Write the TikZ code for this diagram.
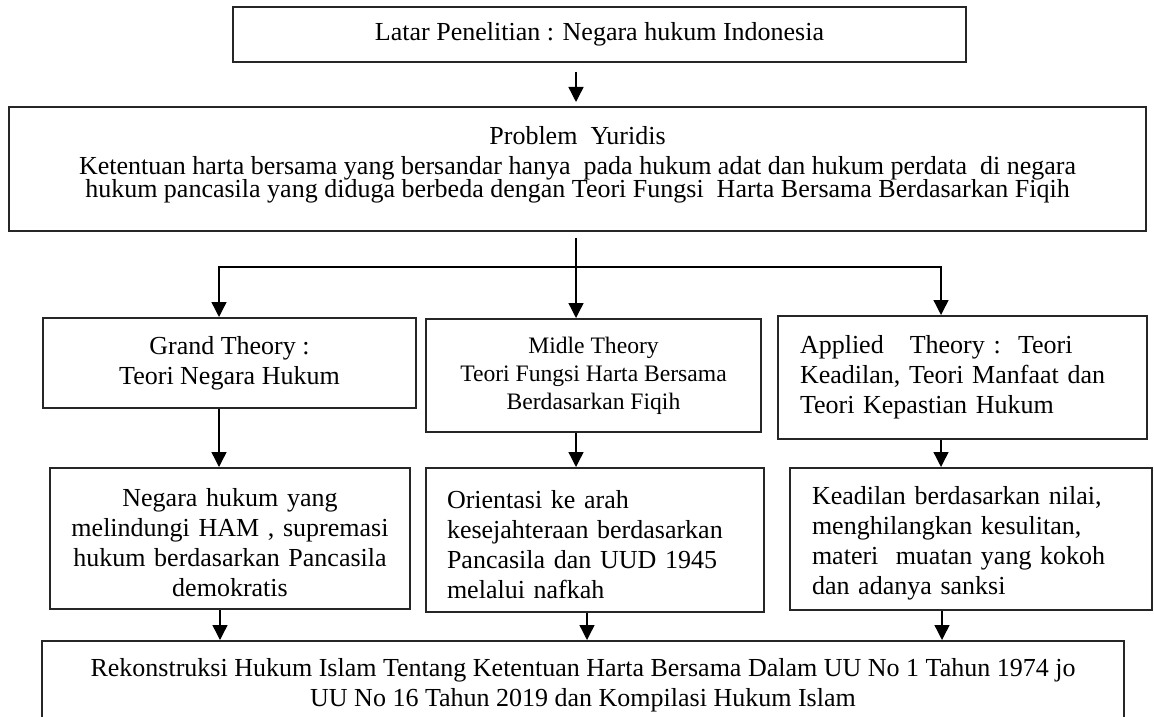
\documentclass[tikz,border=0pt]{standalone}
\usepackage{fontspec}
\setmainfont{Liberation Serif}
\usetikzlibrary{arrows.meta}
\newcommand\tightskiplines{\lineskiplimit=-100pt\relax\lineskip=0pt\relax}
\newcommand\topstrut{\rule{0pt}{13.5pt}}
\begin{document}
\begin{tikzpicture}[x=0.5pt,y=-0.5pt,
  box/.style={draw=black!85, line width=1pt, rectangle, inner sep=0pt,
    font=\fontsize{13}{15}\selectfont},
  con/.style={line width=0.7pt, draw=black},
  arr/.style={con, -{Triangle[width=7.5pt,length=7.5pt]}},
]
\useasboundingbox (0,0) rectangle (1154,716);
\clip (0,0) rectangle (1154,716);

% boxes
\node[box, minimum width=366.5pt, minimum height=27.5pt] (top) at (599.5,34.5)
  {Latar Penelitian : Negara hukum Indonesia};

\node[box, minimum width=568.5pt, minimum height=62pt, align=center,
  font=\fontsize{13}{11.6}\selectfont\tightskiplines] (prob) at (577.5,169)
  {Problem\ \ Yuridis\\[3.4pt]
   Ketentuan harta bersama yang bersandar hanya\ \ pada hukum adat dan hukum perdata\ \ di negara\\
   hukum pancasila yang diduga berbeda dengan Teori Fungsi\ \ Harta Bersama Berdasarkan Fiqih\rule[-6.8pt]{0pt}{6.8pt}};

\node[box, minimum width=186.5pt, minimum height=45pt, align=center] (grand) at (229.5,363)
  {Grand Theory :\\ Teori Negara Hukum};

\node[box, minimum width=167.5pt, minimum height=56.5pt, align=center,
  font=\fontsize{11.8}{14}\selectfont] (midle) at (593.5,375.5)
  {Midle Theory\\ Teori Fungsi Harta Bersama\\ Berdasarkan Fiqih};

\node[box, minimum height=61.5pt, align=left, text width=162.5pt, inner xsep=11pt] (applied) at (962.5,377.5)
  {Applied\ \ \ Theory :\ \ Teori\\ Keadilan, Teori Manfaat dan\\ Teori Kepastian Hukum};

\node[box, minimum height=70.5pt, align=center, text width=170pt, inner xsep=5pt] (n1) at (230,538.5)
  {\topstrut Negara hukum yang\\ melindungi HAM\ , supremasi\\ hukum berdasarkan Pancasila\\ demokratis};

\node[box, minimum height=72pt, align=left, text width=148pt, inner xsep=10.5pt] (n2) at (595,540)
  {\topstrut Orientasi ke arah\\ kesejahteraan berdasarkan\\ Pancasila dan UUD\ 1945\\ melalui nafkah};

\node[box, minimum height=71pt, align=left, text width=159pt, inner xsep=11pt] (n3) at (971,539)
  {\topstrut Keadilan berdasarkan nilai,\\ menghilangkan kesulitan,\\ materi\ \ muatan yang kokoh\\ dan adanya sanksi};

\node[box, minimum width=541pt, minimum height=44.5pt, align=center] (bot) at (583,685.5)
  {Rekonstruksi Hukum Islam Tentang Ketentuan Harta Bersama Dalam UU No 1 Tahun 1974 jo\\
   UU\ No 16 Tahun 2019 dan Kompilasi Hukum Islam};

% column coordinates
\coordinate (cx) at (576,0);
\coordinate (jl) at (219,267);
\coordinate (jm) at (576,267);
\coordinate (jr) at (941,267);
\coordinate (xl) at (220,0);
\coordinate (xm) at (587,0);
\coordinate (xr) at (942,0);

% connectors
\draw[arr, shorten <=4.5pt, shorten >=2pt] (top.south -| cx) -- (prob.north -| cx);
\draw[arr, shorten <=3pt] (prob.south -| jm) -- (midle.north -| jm);
\draw[arr] (jm) -| (grand.north -| jl);
\draw[arr] (jm) -| (applied.north -| jr);

\draw[arr] (grand.south -| jl) -- (n1.north -| jl);
\draw[arr] (midle.south -| jm) -- (n2.north -| jm);
\draw[arr] (applied.south -| jr) -- (n3.north -| jr);

\draw[arr] (n1.south -| xl) -- (bot.north -| xl);
\draw[arr] (n2.south -| xm) -- (bot.north -| xm);
\draw[arr] (n3.south -| xr) -- (bot.north -| xr);
\end{tikzpicture}
\end{document}
